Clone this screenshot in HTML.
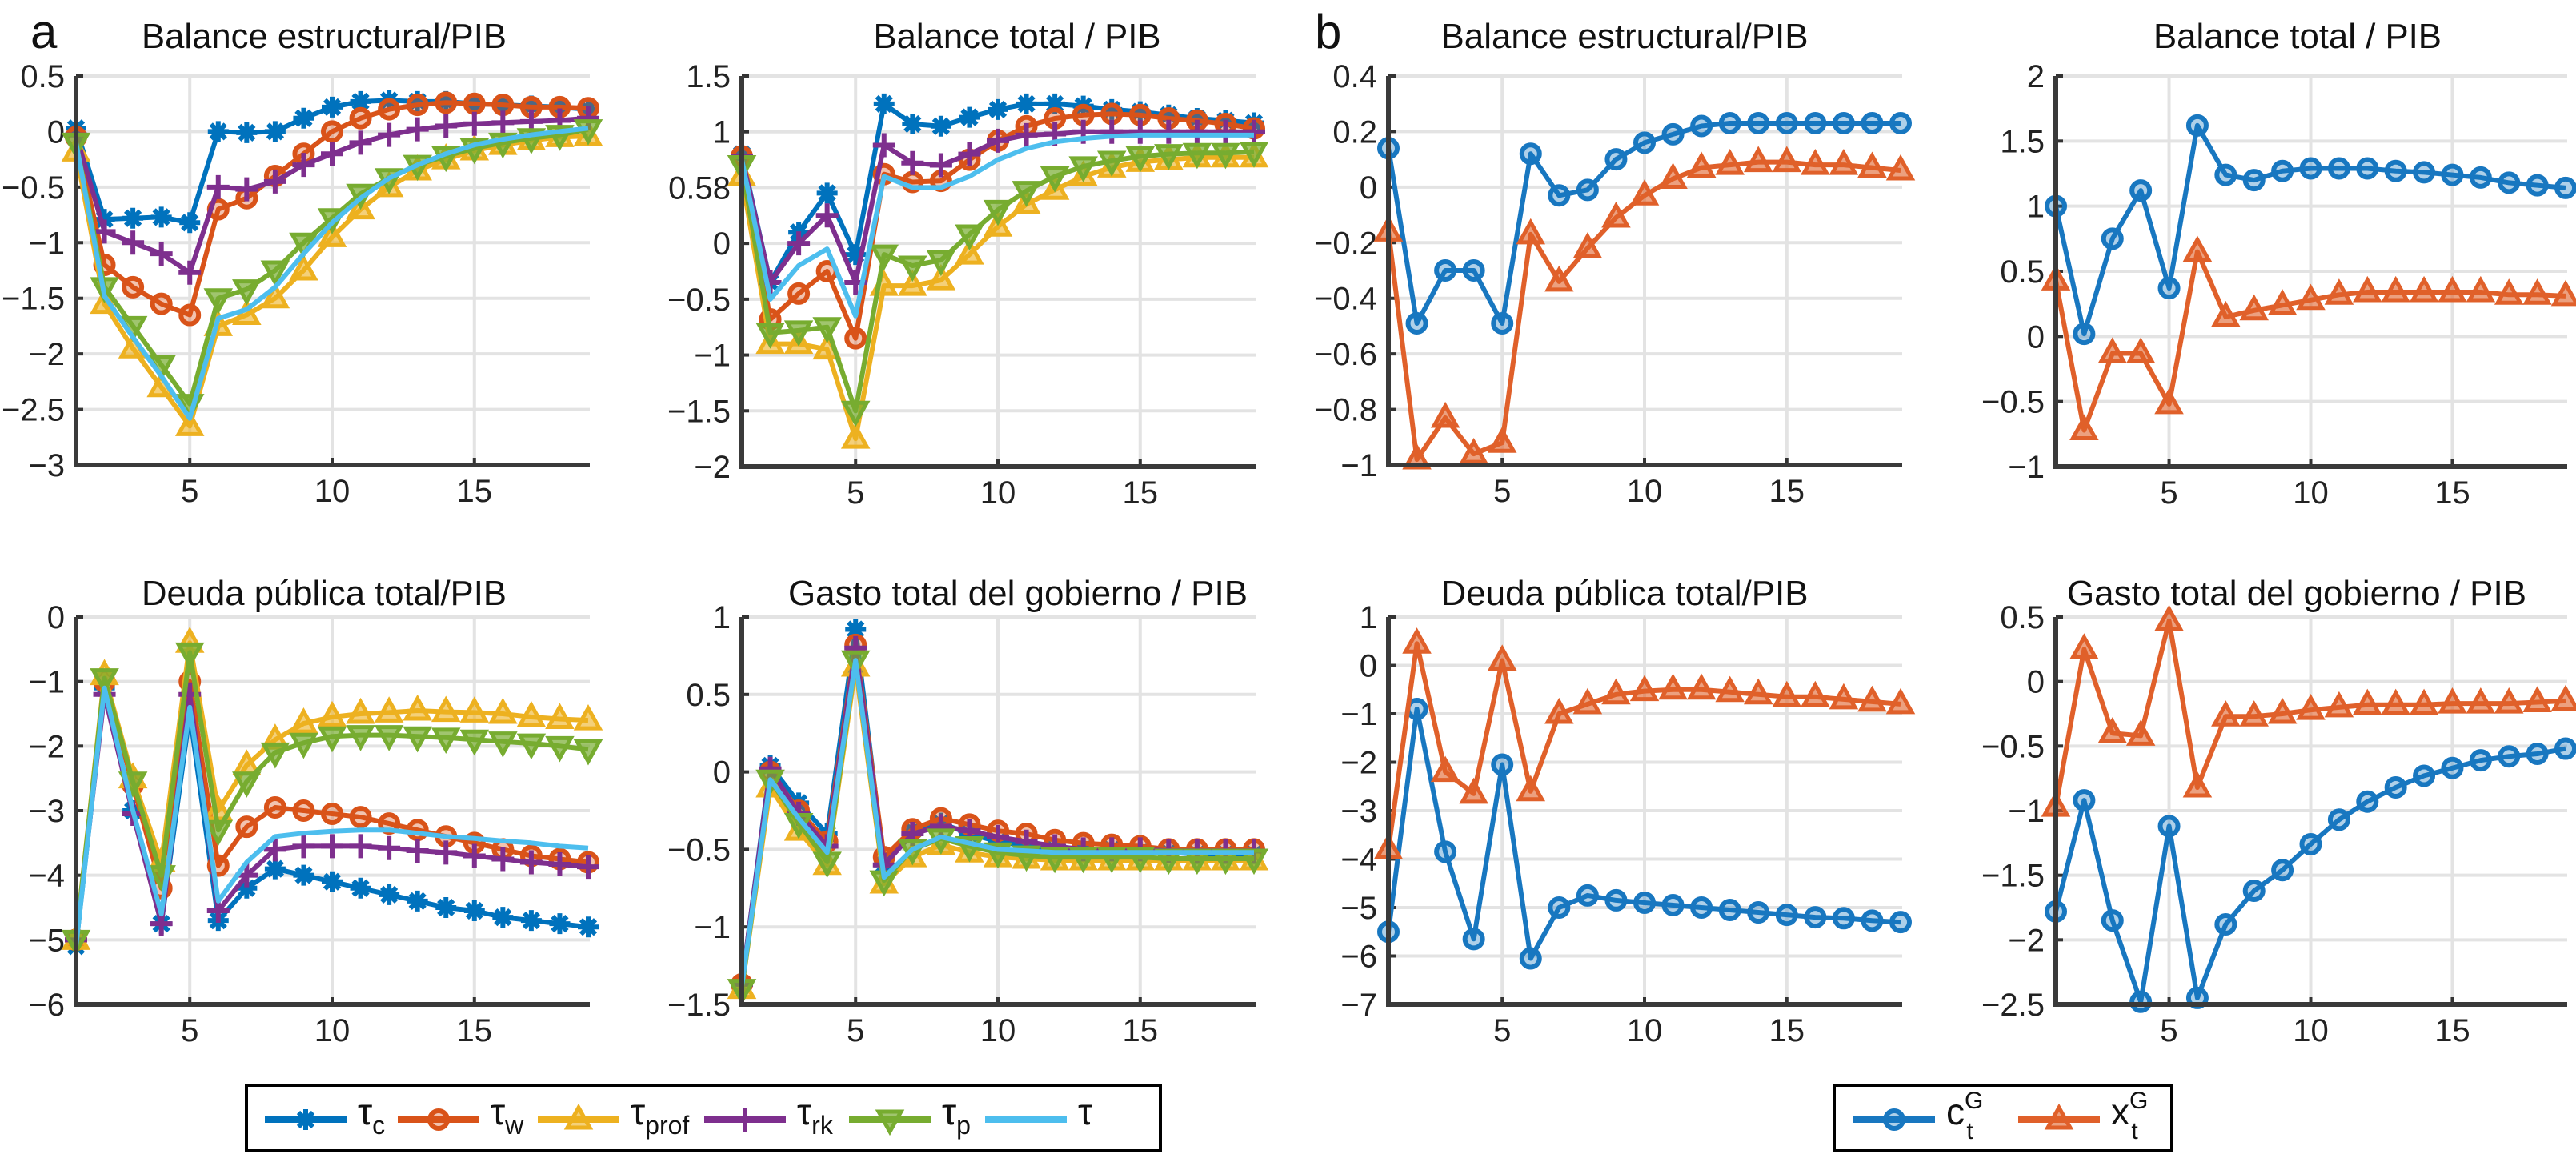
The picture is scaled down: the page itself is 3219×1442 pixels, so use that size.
<!DOCTYPE html>
<html><head><meta charset="utf-8"><style>
html,body{margin:0;padding:0;background:#fff}
svg{display:block;font-family:"Liberation Sans",Arial,sans-serif}
</style></head><body>
<svg id="fig" width="3219" height="1442" viewBox="0 0 3219 1442" xmlns="http://www.w3.org/2000/svg"></svg>
<script>
const periods=[1,2,3,4,5,6,7,8,9,10,11,12,13,14,15,16,17,18,19];
// Panel a1: Balance estructural/PIB
const a1_tc=[0.03,-0.79,-0.78,-0.77,-0.82,0.0,-0.01,0.0,0.12,0.22,0.27,0.28,0.27,0.27,0.25,0.24,0.23,0.22,0.2];
const a1_tw=[-0.05,-1.2,-1.4,-1.55,-1.65,-0.7,-0.6,-0.4,-0.2,0.0,0.12,0.2,0.24,0.26,0.25,0.24,0.22,0.22,0.21];
const a1_tprof=[-0.18,-1.55,-1.95,-2.3,-2.65,-1.75,-1.65,-1.5,-1.25,-0.95,-0.7,-0.5,-0.35,-0.25,-0.17,-0.12,-0.08,-0.05,-0.04];
const a1_trk=[-0.03,-0.9,-1.0,-1.1,-1.27,-0.5,-0.52,-0.45,-0.3,-0.2,-0.1,-0.03,0.02,0.05,0.07,0.08,0.09,0.1,0.12];
const a1_tp=[-0.1,-1.4,-1.75,-2.1,-2.45,-1.5,-1.42,-1.25,-1.0,-0.78,-0.56,-0.42,-0.3,-0.22,-0.15,-0.1,-0.06,-0.03,0.02];
const a1_t=[-0.1,-1.48,-1.85,-2.2,-2.58,-1.68,-1.6,-1.4,-1.1,-0.82,-0.6,-0.42,-0.3,-0.2,-0.12,-0.07,-0.03,0.0,0.03];
// Panel a2: Balance total / PIB
const a2_tc=[0.8,-0.35,0.1,0.45,-0.1,1.25,1.07,1.05,1.13,1.2,1.25,1.25,1.23,1.2,1.18,1.15,1.12,1.1,1.08];
const a2_tw=[0.78,-0.68,-0.45,-0.25,-0.85,0.62,0.55,0.56,0.75,0.92,1.05,1.12,1.15,1.16,1.15,1.12,1.1,1.07,1.03];
const a2_tprof=[0.6,-0.9,-0.9,-0.95,-1.75,-0.38,-0.38,-0.33,-0.1,0.15,0.35,0.48,0.6,0.68,0.73,0.75,0.77,0.77,0.77];
const a2_trk=[0.78,-0.35,0.0,0.25,-0.35,0.88,0.72,0.7,0.8,0.92,0.97,0.98,1.0,1.0,1.0,1.0,1.0,1.0,1.0];
const a2_tp=[0.7,-0.8,-0.78,-0.75,-1.5,-0.1,-0.2,-0.15,0.08,0.3,0.47,0.6,0.69,0.74,0.78,0.8,0.81,0.81,0.82];
const a2_t=[0.75,-0.5,-0.2,-0.05,-0.65,0.6,0.5,0.5,0.6,0.75,0.85,0.91,0.94,0.96,0.97,0.97,0.97,0.97,0.97];
// Panel a3: Deuda pública total/PIB
const a3_tc=[-5.1,-1.1,-3.0,-4.75,-1.5,-4.7,-4.2,-3.9,-4.0,-4.1,-4.2,-4.3,-4.4,-4.5,-4.55,-4.65,-4.7,-4.75,-4.8];
const a3_tw=[-5.0,-1.0,-2.6,-4.2,-1.0,-3.85,-3.25,-2.95,-3.0,-3.05,-3.1,-3.2,-3.3,-3.4,-3.5,-3.6,-3.7,-3.75,-3.8];
const a3_tprof=[-5.0,-0.9,-2.5,-3.8,-0.4,-3.0,-2.3,-1.9,-1.65,-1.55,-1.5,-1.48,-1.45,-1.47,-1.48,-1.5,-1.55,-1.58,-1.6];
const a3_trk=[-5.0,-1.2,-3.05,-4.75,-1.2,-4.55,-4.0,-3.6,-3.55,-3.55,-3.55,-3.58,-3.62,-3.65,-3.7,-3.75,-3.8,-3.83,-3.87];
const a3_tp=[-5.0,-0.95,-2.55,-4.0,-0.55,-3.3,-2.55,-2.1,-1.95,-1.85,-1.83,-1.83,-1.85,-1.87,-1.9,-1.93,-1.96,-2.0,-2.05];
const a3_t=[-5.1,-1.1,-3.0,-4.6,-1.4,-4.4,-3.8,-3.4,-3.35,-3.32,-3.3,-3.3,-3.35,-3.4,-3.43,-3.47,-3.5,-3.55,-3.58];
// Panel a4: Gasto total del gobierno / PIB
const a4_tc=[-1.37,0.04,-0.2,-0.4,0.92,-0.6,-0.38,-0.33,-0.4,-0.45,-0.48,-0.5,-0.5,-0.5,-0.52,-0.52,-0.53,-0.53,-0.53];
const a4_tw=[-1.37,0.0,-0.25,-0.45,0.82,-0.55,-0.37,-0.3,-0.34,-0.38,-0.4,-0.44,-0.46,-0.47,-0.48,-0.5,-0.5,-0.5,-0.5];
const a4_tprof=[-1.4,-0.1,-0.38,-0.6,0.68,-0.72,-0.55,-0.47,-0.52,-0.55,-0.56,-0.57,-0.57,-0.57,-0.57,-0.57,-0.57,-0.57,-0.57];
const a4_trk=[-1.37,0.02,-0.27,-0.48,0.8,-0.6,-0.4,-0.35,-0.38,-0.42,-0.45,-0.48,-0.5,-0.5,-0.5,-0.51,-0.51,-0.51,-0.51];
const a4_tp=[-1.4,-0.05,-0.33,-0.58,0.72,-0.7,-0.5,-0.43,-0.48,-0.52,-0.54,-0.55,-0.55,-0.55,-0.55,-0.56,-0.56,-0.56,-0.56];
const a4_t=[-1.38,-0.05,-0.3,-0.52,0.72,-0.68,-0.5,-0.42,-0.46,-0.5,-0.51,-0.52,-0.52,-0.52,-0.52,-0.52,-0.52,-0.52,-0.52];
// Panels b
const b1_c=[0.14,-0.49,-0.3,-0.3,-0.49,0.12,-0.03,-0.01,0.1,0.16,0.19,0.22,0.23,0.23,0.23,0.23,0.23,0.23,0.23];
const b1_x=[-0.16,-0.98,-0.83,-0.96,-0.92,-0.17,-0.34,-0.22,-0.11,-0.03,0.03,0.07,0.08,0.09,0.09,0.08,0.08,0.07,0.06];
const b2_c=[1.0,0.02,0.75,1.12,0.37,1.62,1.24,1.2,1.27,1.29,1.29,1.29,1.27,1.26,1.24,1.22,1.18,1.16,1.14];
const b2_x=[0.43,-0.72,-0.13,-0.13,-0.52,0.65,0.15,0.2,0.24,0.28,0.32,0.34,0.34,0.34,0.34,0.34,0.32,0.32,0.31];
const b3_c=[-5.5,-0.9,-3.85,-5.65,-2.05,-6.05,-5.0,-4.75,-4.85,-4.9,-4.95,-5.0,-5.05,-5.1,-5.15,-5.2,-5.22,-5.27,-5.3];
const b3_x=[-3.8,0.45,-2.2,-2.65,0.1,-2.6,-1.0,-0.8,-0.6,-0.53,-0.5,-0.5,-0.55,-0.6,-0.65,-0.65,-0.7,-0.75,-0.8];
const b4_c=[-1.78,-0.92,-1.85,-2.48,-1.12,-2.45,-1.88,-1.62,-1.46,-1.26,-1.07,-0.93,-0.82,-0.73,-0.67,-0.61,-0.58,-0.56,-0.52];
const b4_x=[-0.97,0.25,-0.4,-0.42,0.47,-0.82,-0.27,-0.27,-0.25,-0.22,-0.2,-0.18,-0.18,-0.18,-0.17,-0.17,-0.17,-0.16,-0.15];
// tick labels
const xTicks=[5,10,15];
const a1_yt=[0.5,0,-0.5,-1,-1.5,-2,-2.5,-3];
const a2_yt=[1.5,1,0.5,0,-0.5,-1,-1.5,-2];
const a2_ylab=["1.5","1","0.58","0","−0.5","−1","−1.5","−2"];
const a3_yt=[0,-1,-2,-3,-4,-5,-6];
const a4_yt=[1,0.5,0,-0.5,-1,-1.5];
const b1_yt=[0.4,0.2,0,-0.2,-0.4,-0.6,-0.8,-1];
const b2_yt=[2,1.5,1,0.5,0,-0.5,-1];
const b3_yt=[1,0,-1,-2,-3,-4,-5,-6,-7];
const b4_yt=[0.5,0,-0.5,-1,-1.5,-2,-2.5];

const NS="http://www.w3.org/2000/svg";
const svg=document.getElementById('fig');
function el(tag,attrs,parent){const e=document.createElementNS(NS,tag);for(const k in attrs)e.setAttribute(k,attrs[k]);(parent||svg).appendChild(e);return e;}
const COL={tc:'#0072BD',tw:'#D95319',tprof:'#EDB120',trk:'#7E2F8E',tp:'#77AC30',t:'#4DBEEE',c:'#1877C0',x:'#E0602A'};
function fmt(v){return (v<0?'−':'')+Math.abs(v);}

function marker(g,type,cx,cy,col){
  let m;
  if(type==='star'){
    m=el('g',{},g);
    const r=13;
    el('path',{d:`M${cx-r} ${cy}H${cx+r}M${cx} ${cy-r}V${cy+r}M${cx-9} ${cy-9}L${cx+9} ${cy+9}M${cx-9} ${cy+9}L${cx+9} ${cy-9}`,stroke:col,'stroke-width':6,fill:'none'},m);
    el('circle',{cx,cy,r:7,fill:col},m);
  }else if(type==='circle'){
    m=el('circle',{cx,cy,r:11,fill:col,'fill-opacity':0.35,stroke:col,'stroke-width':6},g);
  }else if(type==='tri'){
    m=el('path',{d:`M${cx} ${cy-15}L${cx+14} ${cy+10}L${cx-14} ${cy+10}Z`,fill:col,'fill-opacity':0.6,stroke:col,'stroke-width':5},g);
  }else if(type==='dtri'){
    m=el('path',{d:`M${cx} ${cy+15}L${cx+14} ${cy-10}L${cx-14} ${cy-10}Z`,fill:col,'fill-opacity':0.7,stroke:col,'stroke-width':5},g);
  }else if(type==='plus'){
    m=el('path',{d:`M${cx-14} ${cy}H${cx+14}M${cx} ${cy-15}V${cy+15}`,stroke:col,'stroke-width':6,fill:'none'},g);
  }else return;
  
  
}

function panel(cfg){
  const g=el('g',{});
  
  
  const [x1,x19]=cfg.xr, [yv0,yp0,yv1,yp1]=cfg.yr;
  const X=v=>x1+(v-1)*(x19-x1)/18;
  const Y=v=>yp0+(v-yv0)*(yp1-yp0)/(yv1-yv0);
  const axL=X(1), axR=X(19)+2, top=Y(yv0), bot=Y(yv1);
  cfg.yt.forEach((v,i)=>{
    const gl=el('line',{x1:axL,x2:axR,y1:Y(v),y2:Y(v),stroke:'#e3e3e3','stroke-width':4},g);
    
    
    const t=el('text',{x:axL-14,y:Y(v)+14,'text-anchor':'end','font-size':40,fill:'#222'},g);
    t.textContent=cfg.ylab?cfg.ylab[i]:fmt(v);
    
    
    el('line',{x1:axL,x2:axL+9,y1:Y(v),y2:Y(v),stroke:'#333','stroke-width':4},g);
  });
  xTicks.forEach(v=>{
    const gl=el('line',{x1:X(v),x2:X(v),y1:top,y2:bot,stroke:'#e3e3e3','stroke-width':4},g);
    
    
    const t=el('text',{x:X(v),y:bot+46,'text-anchor':'middle','font-size':40,fill:'#222'},g);
    t.textContent=String(v);
    
    
    el('line',{x1:X(v),x2:X(v),y1:bot,y2:bot-9,stroke:'#333','stroke-width':4},g);
  });
  cfg.series.forEach(s=>{
    const sg=el('g',{},g);
    
    
    const d=s.data.map((v,i)=>(i?'L':'M')+X(periods[i]).toFixed(1)+' '+Y(v).toFixed(1)).join('');
    const p=el('path',{d,fill:'none',stroke:COL[s.key],'stroke-width':6,'stroke-linejoin':'round'},sg);
    
    
    s.data.forEach((v,i)=>marker(sg,s.m,X(periods[i]),Y(v),COL[s.key]));
  });
  const ax=el('path',{d:`M${axL} ${top}V${bot}H${axR}`,fill:'none',stroke:'#3a3a3a','stroke-width':6},g);
  
  
  const tt=el('text',{x:cfg.tc,y:cfg.ty,'text-anchor':'middle','font-size':44,fill:'#111',textLength:cfg.tw,lengthAdjust:'spacingAndGlyphs'},g);
  tt.textContent=cfg.title;
  
  
}

const aSeries=(p)=>[
 {key:'tc',m:'star',data:p[0]},{key:'tw',m:'circle',data:p[1]},{key:'tprof',m:'tri',data:p[2]},
 {key:'trk',m:'plus',data:p[3]},{key:'tp',m:'dtri',data:p[4]},{key:'t',m:'none',data:p[5]}];

panel({name:'panel-a-balance-estructural',xr:[95,735],yr:[0.5,95,-3,581],yt:a1_yt,title:'Balance estructural/PIB',tc:405,ty:60,tw:456,
  series:aSeries([a1_tc,a1_tw,a1_tprof,a1_trk,a1_tp,a1_t])});
panel({name:'panel-a-balance-total',xr:[927,1567],yr:[1.5,95,-2,583],yt:a2_yt,ylab:a2_ylab,title:'Balance total / PIB',tc:1271,ty:60,tw:359,
  series:aSeries([a2_tc,a2_tw,a2_tprof,a2_trk,a2_tp,a2_t])});
panel({name:'panel-a-deuda-publica',xr:[95,735],yr:[0,771,-6,1255],yt:a3_yt,title:'Deuda pública total/PIB',tc:405,ty:756,tw:456,
  series:aSeries([a3_tc,a3_tw,a3_tprof,a3_trk,a3_tp,a3_t])});
panel({name:'panel-a-gasto-total',xr:[927,1567],yr:[1,771,-1.5,1255],yt:a4_yt,title:'Gasto total del gobierno / PIB',tc:1272,ty:756,tw:574,
  series:aSeries([a4_tc,a4_tw,a4_tprof,a4_trk,a4_tp,a4_t])});
panel({name:'panel-b-balance-estructural',xr:[1735,2375],yr:[0.4,95,-1,581],yt:b1_yt,title:'Balance estructural/PIB',tc:2030,ty:60,tw:459,
  series:[{key:'c',m:'circle',data:b1_c},{key:'x',m:'tri',data:b1_x}]});
panel({name:'panel-b-balance-total',xr:[2569,3206],yr:[2,95,-1,583],yt:b2_yt,title:'Balance total / PIB',tc:2871,ty:60,tw:360,
  series:[{key:'c',m:'circle',data:b2_c},{key:'x',m:'tri',data:b2_x}]});
panel({name:'panel-b-deuda-publica',xr:[1735,2375],yr:[1,771,-7,1255],yt:b3_yt,title:'Deuda pública total/PIB',tc:2030,ty:756,tw:459,
  series:[{key:'c',m:'circle',data:b3_c},{key:'x',m:'tri',data:b3_x}]});
panel({name:'panel-b-gasto-total',xr:[2569,3206],yr:[0.5,771,-2.5,1255],yt:b4_yt,title:'Gasto total del gobierno / PIB',tc:2870,ty:756,tw:574,
  series:[{key:'c',m:'circle',data:b4_c},{key:'x',m:'tri',data:b4_x}]});

const la=el('text',{x:38,y:60,'font-size':60,fill:'#111'});la.textContent='a';


const lb=el('text',{x:1643,y:60,'font-size':60,fill:'#111'});lb.textContent='b';



function legend(name,box,entries){
  const g=el('g',{});
  
  
  el('rect',{x:box[0],y:box[1],width:box[2]-box[0],height:box[3]-box[1],fill:'#fff',stroke:'#000','stroke-width':4},g);
  const cy=(box[1]+box[3])/2+2;
  entries.forEach(e=>{
    const eg=el('g',{},g);
    
    
    el('line',{x1:e.x,x2:e.x+102,y1:cy,y2:cy,stroke:COL[e.key],'stroke-width':8},eg);
    marker(eg,e.m,e.x+51,cy,COL[e.key]);
    const t=el('text',{x:e.x+116,y:cy+6,'font-size':46,fill:'#111'},eg);
    const m=el('tspan',{},t);m.textContent=e.main;
    if(e.sup){const s=el('tspan',{'font-size':30,dy:-20},t);s.textContent=e.sup;
      const b=el('tspan',{'font-size':30,dx:-21,dy:38},t);b.textContent=e.sub;}
    else{const b=el('tspan',{'font-size':32,dy:12},t);b.textContent=e.sub;}
  });
}
legend('legend-a',[308,1356,1450,1438],[
 {key:'tc',m:'star',x:331,main:'τ',sub:'c'},{key:'tw',m:'circle',x:497,main:'τ',sub:'w'},
 {key:'tprof',m:'tri',x:672,main:'τ',sub:'prof'},{key:'trk',m:'plus',x:880,main:'τ',sub:'rk'},
 {key:'tp',m:'dtri',x:1061,main:'τ',sub:'p'},{key:'t',m:'none',x:1231,main:'τ',sub:''}]);
legend('legend-b',[2292,1356,2714,1438],[
 {key:'c',m:'circle',x:2316,main:'c',sup:'G',sub:'t'},{key:'x',m:'tri',x:2522,main:'x',sup:'G',sub:'t'}]);
</script>
</body></html>
